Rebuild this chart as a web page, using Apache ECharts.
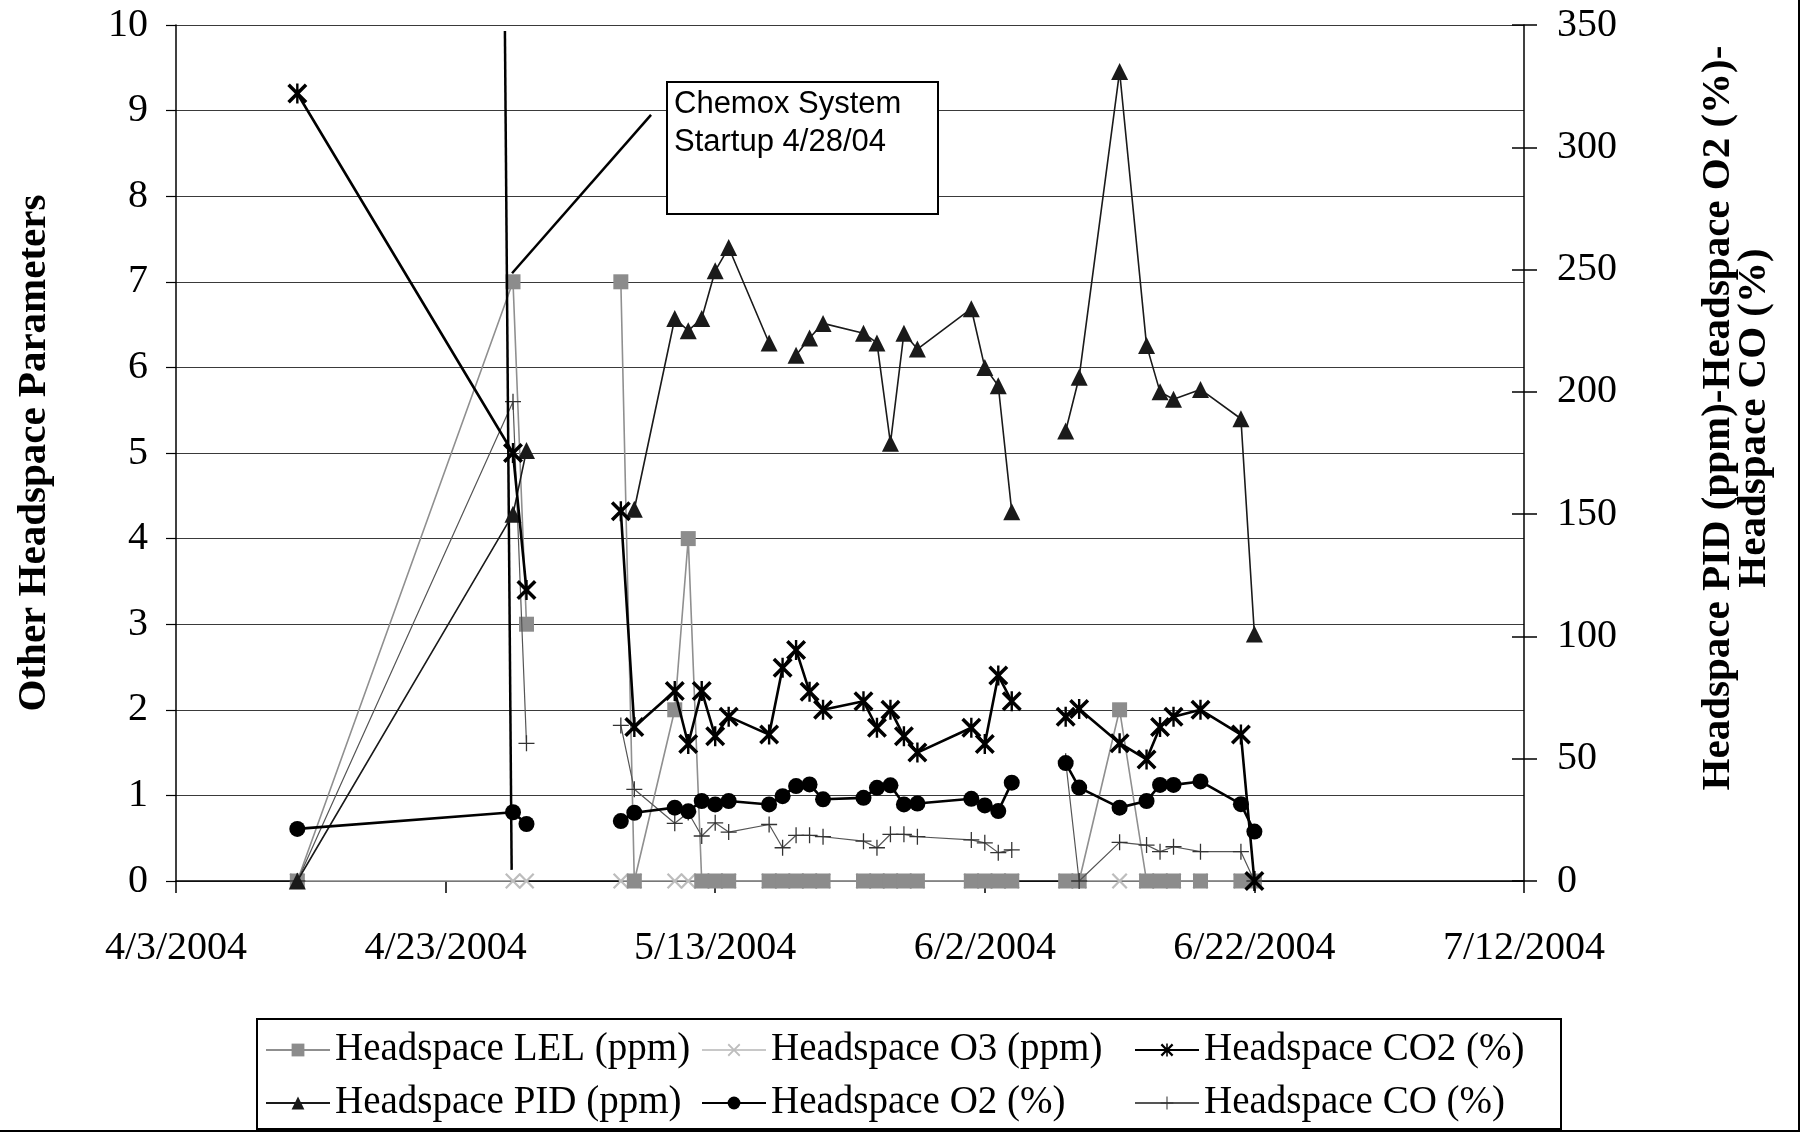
<!DOCTYPE html>
<html><head><meta charset="utf-8">
<script src="https://cdn.jsdelivr.net/npm/echarts@6/dist/echarts.min.js"></script>
<style>html,body{margin:0;padding:0;background:#fff}#c{width:1802px;height:1133px}</style>
</head><body><div id="c"></div>
<script>
// ---------------- data ----------------
const dates = ['4/12/2004','4/28/2004','4/29/2004','5/6/2004','5/7/2004','5/10/2004','5/11/2004','5/12/2004','5/13/2004','5/14/2004','5/17/2004','5/18/2004','5/19/2004','5/20/2004','5/21/2004','5/24/2004','5/25/2004','5/26/2004','5/27/2004','5/28/2004','6/1/2004','6/2/2004','6/3/2004','6/4/2004','6/8/2004','6/9/2004','6/12/2004','6/14/2004','6/15/2004','6/16/2004','6/18/2004','6/21/2004','6/22/2004'];
// dates where a new sampling run starts (lines are not joined across these)
const runStarts = ['5/6/2004','6/8/2004'];
// left axis
const lel = [0,7,3,7,0,2,4,0,0,0,0,0,0,0,0,0,0,0,0,0,0,0,0,0,0,0,2,0,0,0,0,0,0];
const o3  = [0,0,0,0,0,0,0,0,0,0,0,0,0,0,0,0,0,0,0,0,0,0,0,0,0,0,0,0,0,0,0,0,0];
const co2 = [9.2,5.0,3.4,4.32,1.8,2.22,1.6,2.22,1.69,1.92,1.71,2.49,2.7,2.21,2.0,2.1,1.79,2.0,1.69,1.5,1.79,1.6,2.4,2.1,1.92,2.01,1.61,1.42,1.8,1.92,2.0,1.71,0];
// right axis
const pid = [0,150,176,null,152,230,225,230,249.5,259,220,null,215,222,228,224,220,179,224,217.5,234,210,202.5,151,184,206,331,219,200,197,201,189,101];
const o2  = [21.3,28.1,23.3,24.5,27.9,30,28.5,32.7,31.3,32.7,31.3,34.7,38.8,39.5,33.4,34,38.1,39.1,31.3,31.7,33.6,30.9,28.6,40.2,48.2,38.2,30,32.7,39.3,39.3,40.7,31.4,20.2];
const co  = [0,196,56.3,63.6,37.5,23.6,28,18.4,23.8,20,23.1,13.6,18.7,18.7,18.1,16.3,13.6,19.1,19.1,18.1,16.8,15.6,11.6,12.7,49,0,15.8,14.7,12,14,12,12,0];
// axis ticks
const xMinDate = '4/3/2004', xMaxDate = '7/12/2004', xStepDays = 20;
const leftMax = 10, leftStep = 1, rightMax = 350, rightStep = 50;
// annotation
const startupDate = '4/28/2004';
const annotationText = 'Chemox System\nStartup 4/28/04';

// ---------------- helpers ----------------
const EPOCH = Date.UTC(1899,11,30);
function serial(s){ const [m,d,y] = s.split('/').map(Number); return Math.round((Date.UTC(y,m-1,d)-EPOCH)/86400000); }
function fmtSerial(v){ const dt = new Date(EPOCH + Math.round(v)*86400000); return (dt.getUTCMonth()+1)+'/'+dt.getUTCDate()+'/'+dt.getUTCFullYear(); }
function build(vals){
  const out = [];
  dates.forEach((d,i)=>{
    if (i>0 && runStarts.indexOf(d)>=0) out.push([serial(d)-1, null]);
    out.push([serial(d), vals[i]]);
  });
  return out;
}
const xs = serial(startupDate);

const SERIF = '"Liberation Serif","Times New Roman",serif';
const X_PATH = 'path://M2,0 L10,8 L18,0 L20,2 L12,10 L20,18 L18,20 L10,12 L2,20 L0,18 L8,10 L0,2 Z';
const STAR_PATH = 'path://M2.5,0 L10,7.5 L17.5,0 L20,2.5 L12.5,10 L20,17.5 L17.5,20 L10,12.5 L2.5,20 L0,17.5 L7.5,10 L0,2.5 Z M8.8,0 L11.2,0 L11.2,20 L8.8,20 Z';
const PLUS_PATH = 'path://M9.2,0 L10.8,0 L10.8,9.2 L20,9.2 L20,10.8 L10.8,10.8 L10.8,20 L9.2,20 L9.2,10.8 L0,10.8 L0,9.2 L9.2,9.2 Z';

const names = ['Headspace LEL (ppm)','Headspace O3 (ppm)','Headspace CO2 (%)','Headspace PID (ppm)','Headspace O2 (%)','Headspace CO (%)'];

const chart = echarts.init(document.getElementById('c'), null, {renderer:'canvas'});

const legendCommon = {
  orient:'horizontal', itemWidth:64, itemHeight:16, itemGap:0, padding:0,
  textStyle:{fontFamily:SERIF, fontSize:39, color:'#000', lineHeight:44},
  selectedMode:false
};
const colX = [265, 701, 1134], rowY = [1028, 1081];
const legends = names.map((n,i)=>Object.assign({}, legendCommon, {
  data:[n], left: colX[i%3], top: rowY[Math.floor(i/3)]
}));

const option = {
  animation:false,
  backgroundColor:'#fff',
  grid:{left:176, right:278, top:25, bottom:252, containLabel:false},
  legend: legends,
  xAxis:{
    type:'value', min:serial(xMinDate), max:serial(xMaxDate), interval:xStepDays,
    axisLine:{show:true, onZero:false, lineStyle:{color:'#000', width:1.5}},
    axisTick:{show:true, inside:false, length:12, lineStyle:{color:'#000', width:1.5}},
    axisLabel:{formatter:fmtSerial, fontFamily:SERIF, fontSize:40, color:'#000', margin:47},
    splitLine:{show:false}
  },
  yAxis:[
    {
      type:'value', position:'left', min:0, max:leftMax, interval:leftStep,
      name:'Other Headspace Parameters', nameLocation:'middle', nameRotate:90, nameGap:121,
      nameTextStyle:{fontFamily:SERIF, fontSize:41, fontWeight:'bold', color:'#000'},
      axisLine:{show:true, lineStyle:{color:'#000', width:1.5}},
      axisTick:{show:true, inside:false, length:10, lineStyle:{color:'#000', width:1.2}},
      axisLabel:{fontFamily:SERIF, fontSize:40, color:'#000', margin:28},
      splitLine:{show:true, lineStyle:{color:'#3a3a3a', width:1.2}}
    },
    {
      type:'value', position:'right', min:0, max:rightMax, interval:rightStep,
      name:'Headspace PID (ppm)-Headspace O2 (%)-\nHeadspace CO (%)', nameLocation:'middle', nameRotate:90, nameGap:176,
      nameTextStyle:{fontFamily:SERIF, fontSize:41, fontWeight:'bold', color:'#000', lineHeight:36, padding:[0,0,0,70]},
      axisLine:{show:true, lineStyle:{color:'#000', width:1.5}},
      axisTick:{show:true, inside:false, length:13, lineStyle:{color:'#000', width:1.5}},
      axisLabel:{fontFamily:SERIF, fontSize:40, color:'#000', margin:33},
      splitLine:{show:false}
    },
    {
      type:'value', position:'right', min:0, max:rightMax, interval:rightStep,
      axisLine:{show:false}, axisLabel:{show:false}, splitLine:{show:false},
      axisTick:{show:true, inside:true, length:12, lineStyle:{color:'#000', width:1.5}}
    }
  ],
  series:[
    {name:names[1], type:'line', yAxisIndex:0, data:build(o3), connectNulls:false,
     symbol:X_PATH, symbolSize:16, itemStyle:{color:'#bdbdbd'}, lineStyle:{color:'#c8c8c8', width:1.6}, z:2},
    {name:names[0], type:'line', yAxisIndex:0, data:build(lel), connectNulls:false,
     symbol:'rect', symbolSize:15, itemStyle:{color:'#8c8c8c'}, lineStyle:{color:'#8f8f8f', width:1.6}, z:3},
    {name:names[5], type:'line', yAxisIndex:1, data:build(co), connectNulls:false,
     symbol:PLUS_PATH, symbolSize:16, itemStyle:{color:'#333'}, lineStyle:{color:'#555', width:1.2}, z:4},
    {name:names[3], type:'line', yAxisIndex:1, data:build(pid), connectNulls:false,
     symbol:'triangle', symbolSize:17, itemStyle:{color:'#1a1a1a'}, lineStyle:{color:'#1a1a1a', width:1.6}, z:5},
    {name:names[2], type:'line', yAxisIndex:0, data:build(co2), connectNulls:false,
     symbol:STAR_PATH, symbolSize:20, itemStyle:{color:'#000'}, lineStyle:{color:'#000', width:2.6}, z:6,
     markLine:{silent:true, symbol:['none','none'], label:{show:false}, animation:false,
       lineStyle:{color:'#000', width:2.5, type:'solid'},
       data:[
         [{coord:[xs-0.6, 9.93]}, {coord:[xs-0.1, 0.13]}],
         [{coord:[xs-0.07, 7.1]}, {coord:[xs+10.24, 8.95]}]
       ]}},
    {name:names[4], type:'line', yAxisIndex:1, data:build(o2), connectNulls:false,
     symbol:'circle', symbolSize:16, itemStyle:{color:'#000'}, lineStyle:{color:'#000', width:2.6}, z:7}
  ],
  graphic:[
    {type:'rect', z:100, shape:{x:667, y:82, width:271, height:132}, style:{fill:'#fff', stroke:'#000', lineWidth:2}},
    {type:'text', z:101, x:674, y:85, style:{text:annotationText, font:'31px "Liberation Sans", Arial, sans-serif', fill:'#000', lineHeight:38, textVerticalAlign:'top', textAlign:'left'}},
    {type:'rect', z:100, shape:{x:257, y:1019, width:1304, height:110}, style:{fill:'none', stroke:'#000', lineWidth:2}},
    {type:'rect', z:100, shape:{x:-5, y:-5, width:1804, height:1136}, style:{fill:'none', stroke:'#000', lineWidth:2}}
  ]
};
chart.setOption(option);
</script>
</body></html>
